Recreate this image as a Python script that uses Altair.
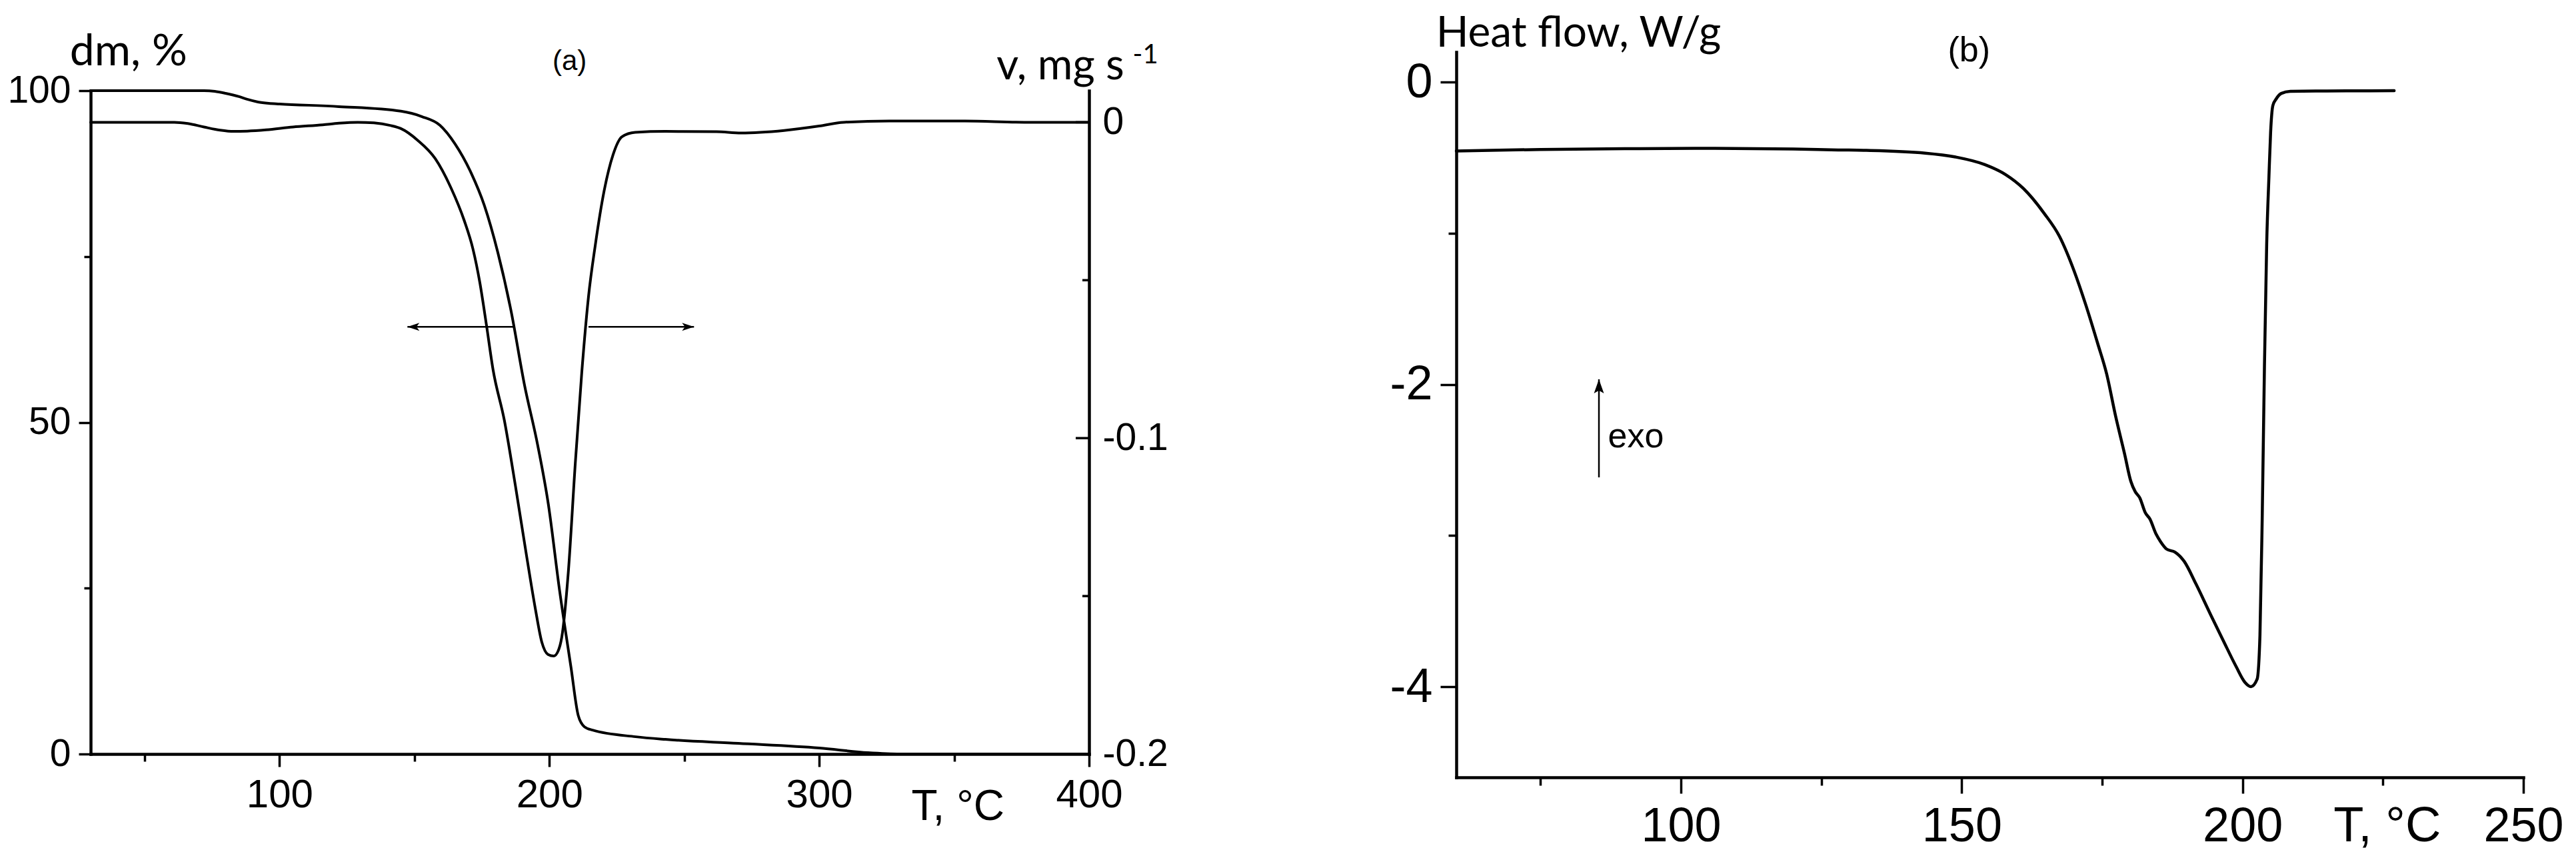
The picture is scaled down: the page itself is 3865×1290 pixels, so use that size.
import altair as alt
import pandas as pd

# ---------------- data ----------------
# panel (a): TG curve (mass, %) and DTG curve (rate, mg/s) vs temperature
tg_temp = [30, 72, 76, 80, 85, 88, 92, 96, 100, 122, 145, 152.7, 159.4, 165, 171, 175.9,
           180.9, 185.8, 190.7, 195.7, 199.6, 203.8, 208, 210.7, 213, 216, 232, 243, 270,
           300, 318, 330, 400]
tg_mass = [100, 100, 99.9, 99.6, 99.1, 98.7, 98.3, 98.1, 98.0, 97.6, 96.9, 96.1, 94.8, 92.0,
           87.6, 82.7, 75.6, 66.8, 55.8, 46.5, 37.7, 24.6, 13.1, 5.8, 4.1, 3.6, 2.6, 2.2, 1.6,
           0.9, 0.2, 0, 0]

dtg_temp = [30, 61, 66, 72, 78, 83, 88, 95, 105, 116, 122, 129, 135, 141, 145, 151.2, 157.7,
            163.5, 168.4, 171.7, 174.2, 176.7, 179.1, 183.3, 187.4, 191.5, 194.8, 197.2, 199.5,
            201.6, 203.2, 204.6, 207, 209.6, 212, 214.5, 217, 220.3, 223.6, 226.9, 231.8, 243,
            262, 271, 287, 300, 309, 326, 354, 376, 400]
dtg_rate = [0, 0, -0.0004, -0.0015, -0.0025, -0.0029, -0.0028, -0.0024, -0.0015, -0.0008,
            -0.0003, 0, -0.0002, -0.001, -0.002, -0.0057, -0.0115, -0.0207, -0.031, -0.0402,
            -0.0506, -0.0643, -0.0782, -0.0943, -0.115, -0.137, -0.154, -0.1646, -0.1685,
            -0.169, -0.1675, -0.163, -0.1426, -0.108, -0.0793, -0.0552, -0.039, -0.0217,
            -0.0103, -0.0046, -0.0032, -0.0029, -0.003, -0.0034, -0.0026, -0.0012, 0, 0.0004,
            0.0004, 0, 0]

# panel (b): DSC heat flow vs temperature
dsc_temp = [60, 75, 90, 105, 120, 128, 133, 143.5, 148.9, 154.1, 157.8, 161, 164.7, 167.4,
            170, 172.1, 174.2, 175.8, 177.4, 179, 180.1, 180.9, 181.7, 182.7, 183.5, 184.6,
            185.4, 186.5, 188, 189.6, 191.7, 194.4, 196.5, 198.9, 200.4, 201.5, 202.6, 203.1,
            203.5, 203.9, 204.3, 204.7, 205, 205.4, 206, 206.9, 208.5, 215, 227]
dsc_flow = [-0.455, -0.445, -0.44, -0.437, -0.442, -0.448, -0.451, -0.469, -0.495, -0.545,
            -0.611, -0.704, -0.869, -1.02, -1.248, -1.475, -1.728, -1.93, -2.21, -2.46, -2.64,
            -2.71, -2.75, -2.85, -2.89, -2.99, -3.04, -3.09, -3.11, -3.17, -3.32, -3.53,
            -3.69, -3.87, -3.97, -4.0, -3.95, -3.66, -2.89, -1.88, -1.07, -0.625, -0.33,
            -0.154, -0.11, -0.074, -0.06, -0.058, -0.056]

# axis tick values
a_x_ticks = [50, 100, 150, 200, 250, 300, 350, 400]
a_dm_ticks = [0, 25, 50, 75, 100]
a_v_ticks = [0, -0.1, -0.2]
a_v_major = [0, -0.1, -0.2]
a_v_minor = [-0.05, -0.15]
b_x_ticks = [75, 100, 125, 150, 175, 200, 225, 250]
b_hf_ticks = [-4, -3, -2, -1, 0]

# annotation anchors (data coordinates)
arrow_left_T = [187, 147.4]
arrow_right_T = [214.5, 253.6]
arrow_a_dm = 64.4
exo_T = 85.4
exo_hf = [-2.615, -1.966]

LABEL_FONT = "Liberation Sans"
TITLE_FONT = "Lato"
W, H = 3849, 1274


def sc(domain, rng):
    return alt.Scale(domain=domain, range=rng, nice=False, zero=False)


ax_scale = lambda: sc([30, 400], [128, 1626])
dm_scale = lambda: sc([0, 100], [1123, 128])
v_scale = lambda: sc([-0.2, 0.01], [1123, 128])
bx_scale = lambda: sc([60, 250], [2177, 3778])
hf_scale = lambda: sc([-4.6, 0.2], [1158, 70])

common = dict(grid=False, title=None, domainColor="black", domainWidth=4.5,
              tickColor="black", tickWidth=3.5, labelColor="black", labelFont=LABEL_FONT,
              labelOverlap=False, labelFlush=False, domainCap="square")

axis_a_x = alt.Axis(orient="bottom", offset=-(H - 1123), values=a_x_ticks,
                    labelExpr="datum.value % 100 === 0 ? datum.label : ''",
                    tickSize={"condition": {"test": "datum.value % 100 === 0", "value": 19}, "value": 11},
                    labelFontSize=60, labelPadding=13, **common)
axis_a_left = alt.Axis(orient="left", offset=-128, values=a_dm_ticks,
                       labelExpr="datum.value % 50 === 0 ? datum.label : ''",
                       tickSize={"condition": {"test": "datum.value % 50 === 0", "value": 18}, "value": 10},
                       labelFontSize=57, labelPadding=12, **common)
axis_a_right = alt.Axis(orient="right", offset=1626 - W, values=a_v_ticks, ticks=False,
                        labelExpr="datum.value === 0 ? '0' : '-' + format(abs(datum.value), '.1f')",
                        labelFontSize=57, labelPadding=20, **common)
axis_b_x = alt.Axis(orient="bottom", offset=-(H - 1158), values=b_x_ticks,
                    labelExpr="datum.value % 50 === 0 ? datum.label : ''",
                    tickSize={"condition": {"test": "datum.value % 50 === 0", "value": 24}, "value": 12},
                    labelFontSize=72, labelPadding=14, **common)
axis_b_left = alt.Axis(orient="left", offset=-2177, values=b_hf_ticks,
                       labelExpr="datum.value === 0 ? '0' : (datum.value % 2 === 0 ? '-' + abs(datum.value) : '')",
                       tickSize={"condition": {"test": "datum.value % 2 === 0", "value": 24}, "value": 12},
                       labelFontSize=72, labelPadding=12, **common)

df_tg = pd.DataFrame({"T": tg_temp, "m": tg_mass})
df_dtg = pd.DataFrame({"T": dtg_temp, "v": dtg_rate})
df_dsc = pd.DataFrame({"T": dsc_temp, "hf": dsc_flow})

LINE = dict(color="black", interpolate="monotone", strokeCap="round", strokeJoin="round")

tg = alt.Chart(df_tg).mark_line(strokeWidth=4, **LINE).encode(
    x=alt.X("T:Q", scale=ax_scale(), axis=axis_a_x),
    y=alt.Y("m:Q", scale=dm_scale(), axis=axis_a_left))

dtg = alt.Chart(df_dtg).mark_line(strokeWidth=4, **LINE).encode(
    x=alt.X("T:Q", scale=ax_scale(), axis=None),
    y=alt.Y("v:Q", scale=v_scale(), axis=axis_a_right))

dsc = alt.Chart(df_dsc).mark_line(strokeWidth=4.5, **LINE).encode(
    x=alt.X("T:Q", scale=bx_scale(), axis=axis_b_x),
    y=alt.Y("hf:Q", scale=hf_scale(), axis=axis_b_left))


def vtick(values, length):
    return alt.Chart(pd.DataFrame({"v": values})).mark_rule(
        color="black", strokeWidth=3.5, x2Offset=-length).encode(
        x=alt.XDatum(400, scale=ax_scale(), axis=None),
        x2=alt.X2Datum(400),
        y=alt.Y("v:Q", scale=v_scale(), axis=None))


def text_a(txt, T, m, size, font=LABEL_FONT, align="left", baseline="alphabetic", yscale=dm_scale):
    return alt.Chart().mark_text(text=txt, font=font, fontSize=size, align=align,
                                 baseline=baseline, color="black").encode(
        x=alt.XDatum(T, scale=ax_scale(), axis=None),
        y=alt.YDatum(m, scale=yscale(), axis=None))


def text_b(txt, T, hf, size, font=LABEL_FONT, align="left", baseline="alphabetic"):
    return alt.Chart().mark_text(text=txt, font=font, fontSize=size, align=align,
                                 baseline=baseline, color="black").encode(
        x=alt.XDatum(T, scale=bx_scale(), axis=None),
        y=alt.YDatum(hf, scale=hf_scale(), axis=None))


def hrule_a(T0, T1, m):
    return alt.Chart().mark_rule(color="black", strokeWidth=2.5).encode(
        x=alt.XDatum(T0, scale=ax_scale(), axis=None),
        x2=alt.X2Datum(T1),
        y=alt.YDatum(m, scale=dm_scale(), axis=None))


def head_a(T, m, path, size):
    return alt.Chart().mark_point(shape=path, filled=True, size=size, color="black",
                                  opacity=1, strokeWidth=0).encode(
        x=alt.XDatum(T, scale=ax_scale(), axis=None),
        y=alt.YDatum(m, scale=dm_scale(), axis=None))


left_head = "M0,0 L2,-0.67 L1.5,0 L2,0.67 Z"
right_head = "M0,0 L-2,-0.67 L-1.5,0 L-2,0.67 Z"
up_head = "M0,0 L0.71,2 L0,1.6 L-0.71,2 Z"

exo_shaft = alt.Chart().mark_rule(color="black", strokeWidth=2.5).encode(
    x=alt.XDatum(exo_T, scale=bx_scale(), axis=None),
    y=alt.YDatum(exo_hf[0], scale=hf_scale(), axis=None),
    y2=alt.Y2Datum(exo_hf[1]))
exo_head = alt.Chart().mark_point(shape=up_head, filled=True, size=441, color="black",
                                  opacity=1, strokeWidth=0).encode(
    x=alt.XDatum(exo_T, scale=bx_scale(), axis=None),
    y=alt.YDatum(exo_hf[1], scale=hf_scale(), axis=None))

layers = [
    tg, dtg, dsc,
    vtick(a_v_major, 20), vtick(a_v_minor, 10),
    hrule_a(arrow_left_T[0], arrow_left_T[1], arrow_a_dm),
    hrule_a(arrow_right_T[0], arrow_right_T[1], arrow_a_dm),
    head_a(arrow_left_T[1], arrow_a_dm, left_head, 324),
    head_a(arrow_right_T[1], arrow_a_dm, right_head, 324),
    exo_shaft, exo_head,
    text_a("dm, %", 22.3, 103.8, 66, font=TITLE_FONT),
    text_a("v, mg s", 365.7, 0.0136, 64, font=TITLE_FONT, yscale=v_scale),
    text_a("-1", 416.2, 0.0187, 40, font=TITLE_FONT, yscale=v_scale),
    text_a("(a)", 207.5, 104.4, 42, align="center", baseline="middle"),
    text_a("T, °C", 334.2, -9.95, 64),
    text_b("Heat flow, W/g", 56.4, 0.235, 64, font=TITLE_FONT),
    text_b("(b)", 151.3, 0.209, 52, align="center", baseline="middle"),
    text_b("T, °C", 216.2, -5.024, 74),
    text_b("exo", 87.0, -2.346, 52, baseline="middle"),
]

chart = alt.layer(*layers, data=pd.DataFrame({"d": [0]})).resolve_scale(
    x="independent", y="independent").properties(
    width=W, height=H, autosize=alt.AutoSizeParams(type="none"), padding=0,
    background="white").configure_view(stroke=None)

chart.save("out.html", embed_options={"renderer": "svg", "actions": False})
